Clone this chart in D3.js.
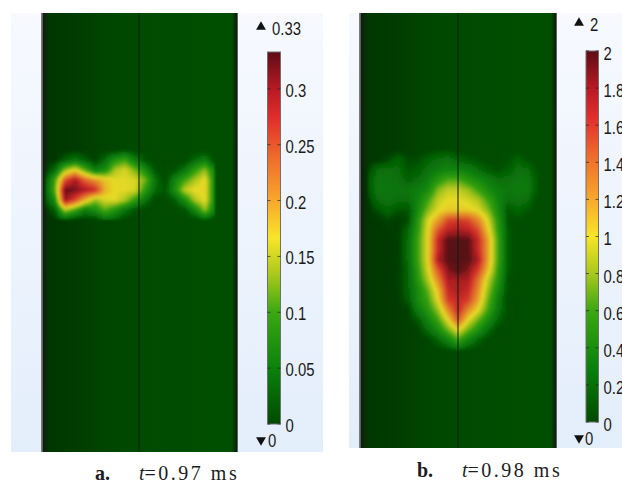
<!DOCTYPE html>
<html><head><meta charset="utf-8">
<script src="https://cdn.jsdelivr.net/npm/d3@7"></script>
<style>html,body{margin:0;padding:0;background:#fff}svg{display:block}</style></head>
<body><svg id="c" width="622" height="484"></svg>
<script>
// ---- data ----
const colourStops = [[0,"#004b00"],[0.15,"#0b820b"],[0.3,"#3aa812"],[0.4,"#a8c81c"],[0.5,"#f8e528"],[0.6,"#f8a82c"],[0.72,"#ee6a2c"],[0.82,"#e22e2c"],[0.9,"#b81a24"],[1,"#5e0c16"]];
const ticksA = [0,0.05,0.1,0.15,0.2,0.25,0.3];
const ticksB = [0,0.2,0.4,0.6,0.8,1,1.2,1.4,1.6,1.8,2];
const maxA = "0.33", minA = "0", maxB = "2", minB = "0";
const captionA = ["a.", "t", "=0.97 ms"];
const captionB = ["b.", "t", "=0.98 ms"];
// panel a: field in units of 0.01, 18 columns, 8 rows
const fieldA = [
 [0,0,0,0,0,0,0,0,1,0,0,0,0,0,0,0,0,0],
 [0,0,2,4,2,0,3,8,10,5,1,0,0,0,0,3,5,0],
 [0,3,13,17,11,5,7,14,16,12,7,1,0,1,4,9,13,5],
 [1,10,25,30,24,21,18,16.5,16.5,16,12,4,0,6,10,14,17,6],
 [2,11,33,32,30,28,19,16.5,16.5,16,9,3,1,7,15,17,17,6],
 [1,7,31,26,19,13,16,16.5,14,9,4,0,0,2,7,14,17,6],
 [0,2,14,10,5,7,11,8,4,1,0,0,0,0,1,6,13,5],
 [0,0,2,0,0,0,3,2,0,0,0,0,0,0,0,0,2,0]
];
// panel b: field in units of 0.1, 18 columns, 21 rows
const fieldB = [
 [0,0,0,0,0,0,0,0.5,0.5,0,0,0,0,0,0,0,0,0],
 [0,0,0.5,1.5,0.5,0.5,1.5,2,2.5,1.5,1,0.5,0,0,0.5,1.5,0.5,0],
 [0.3,2,2.2,2,0.8,1.2,2.2,3,3.5,3.5,3,2,1,0.5,1.2,2.2,2,0.3],
 [1,2.5,2.5,2.2,1.5,2,3,5,6.5,6.5,5,4,3,2,2.2,2.6,2.5,0.8],
 [0.8,2.6,2.6,2.5,2.5,3,4,7.5,9,9,8,6,4,3,2.5,2.8,2.6,0.8],
 [0.2,2,2.4,2,2,3.5,6,9,10,10,9.5,8.5,6,3.5,2,2.4,2,0.2],
 [0,0.8,1.6,0.8,0.8,4,7.5,9.8,10.5,10.5,10.5,9.8,7.5,4,0.8,1.6,0.8,0],
 [0,0,0.4,0,0.5,5,9.5,12,15.5,16,15.5,13,9.5,5,0.5,0.4,0,0],
 [0,0,0,0,1.5,5.5,10,15,17.5,18,17.5,15.5,10.5,5.5,1,0,0,0],
 [0,0,0,0,2,6,10,17,20,20,20,17,12,6,1,0,0,0],
 [0,0,0,0,2,6,10,17,20,20,20,17,12,6,1,0,0,0],
 [0,0,0,0,2,6,10,18,20,20,20,18,12,6,1,0,0,0],
 [0,0,0,0,1.5,5.5,9.5,15,19,20,19,16,11,5.5,1,0,0,0],
 [0,0,0,0,1.5,5,8.5,13,18,18,18,14,9,5,0.5,0,0,0],
 [0,0,0,0,1.5,4,7,11,17,18,17,13,8,4,0.5,0,0,0],
 [0,0,0,0,1,4,6,10,16,17,16,12,7,3,0,0,0,0],
 [0,0,0,0,0,3,5,8,13,17,13,10,6,2.5,0.3,0,0,0],
 [0,0,0,0,0,1,3.5,6,10,15,10,7,4,1.5,0,0,0,0],
 [0,0,0,0,0,0,2,4,7,10,7,4.5,2,0,0,0,0,0],
 [0,0,0,0,0,0,0,1.5,3.5,6,3.5,1.5,0,0,0,0,0,0],
 [0,0,0,0,0,0,0,0,0.5,1.5,0.5,0,0,0,0,0,0,0]
];

// ---- drawing ----
const svg = d3.select("#c");
const defs = svg.append("defs");
const font = "'Liberation Sans',Arial,sans-serif", serif = "'Liberation Serif','Times New Roman',serif";

function vGrad(id, stops){
  const g = defs.append("linearGradient").attr("id",id).attr("x1",0).attr("x2",0).attr("y1",0).attr("y2",1);
  stops.forEach(s=>g.append("stop").attr("offset",s[0]).attr("stop-color",s[1]));
}
vGrad("bg",[[0,"#f7f9ff"],[1,"#e3eefb"]]);
const cb = defs.append("linearGradient").attr("id","cbar").attr("x1",0).attr("x2",0).attr("y1",1).attr("y2",0);
colourStops.forEach(s=>cb.append("stop").attr("offset",s[0]).attr("stop-color",s[1]));
const pg = defs.append("linearGradient").attr("id","plot").attr("x1",0).attr("x2",1).attr("y1",0).attr("y2",0);
[[0,"#7a7a7a"],[0.006,"#7a7a7a"],[0.012,"#0c1f0c"],[0.03,"#0a2c0a"],[0.04,"#003600"],[0.14,"#003a00"],[0.3,"#004300"],[0.5,"#004b00"],[0.97,"#004f00"],[0.985,"#0a2c0a"],[0.993,"#0c1f0c"],[1,"#8a8a8a"]]
 .forEach(s=>pg.append("stop").attr("offset",s[0]).attr("stop-color",s[1]));
defs.append("filter").attr("id","soft").attr("filterUnits","userSpaceOnUse").attr("x",0).attr("y",0).attr("width",622).attr("height",484)
  .append("feGaussianBlur").attr("stdDeviation",1);

function bilinear(f, c, r){
  const c0=Math.floor(c), r0=Math.floor(r), c1=Math.min(c0+1,f[0].length-1), r1=Math.min(r0+1,f.length-1);
  const u=c-c0, v=r-r0;
  return (f[r0][c0]*(1-u)+f[r0][c1]*u)*(1-v)+(f[r1][c0]*(1-u)+f[r1][c1]*u)*v;
}

function panel(o){
  const g = svg.append("g");
  g.append("rect").attr("x",o.bg[0]).attr("y",o.bg[1]).attr("width",o.bg[2]-o.bg[0]).attr("height",o.bg[3]-o.bg[1]).attr("fill","url(#bg)");
  g.append("rect").attr("x",o.plot[0]).attr("y",o.bg[1]).attr("width",o.plot[1]-o.plot[0]).attr("height",o.bg[3]-o.bg[1]).attr("fill","url(#plot)");

  const vmax = o.vmax;
  const colour = d3.scaleLinear().domain(colourStops.map(s=>s[0]*vmax)).range(colourStops.map(s=>s[1])).clamp(true);
  const nc=o.field[0].length, nr=o.field.length;
  const xs=d3.scaleLinear().domain([0,nc-1]).range(o.fx), ys=d3.scaleLinear().domain([0,nr-1]).range(o.fy);
  const step=2, cells=[];
  for(let py=o.fy[0];py<o.fy[1];py+=step) for(let px=o.fx[0];px<o.fx[1];px+=step){
    const v=bilinear(o.field,xs.invert(px+step/2),ys.invert(py+step/2))*o.unit;
    if(v>0) cells.push({px,py,v});
  }
  g.append("g").attr("filter","url(#soft)").selectAll("rect").data(cells).join("rect")
    .attr("x",d=>d.px).attr("y",d=>d.py).attr("width",step).attr("height",step)
    .attr("fill",d=>colour(d.v)).attr("opacity",d=>Math.min(0.93,d.v/(0.05*vmax)));
  g.append("line").attr("x1",o.cx).attr("x2",o.cx).attr("y1",o.bg[1]).attr("y2",o.bg[3]).attr("stroke","#102010").attr("stroke-opacity",0.85).attr("stroke-width",1.2);

  // colour bar
  const y = d3.scaleLinear().domain([0,vmax]).range(o.bar);
  g.append("rect").attr("x",o.bx[0]).attr("y",o.bar[1]).attr("width",o.bx[1]-o.bx[0]).attr("height",o.bar[0]-o.bar[1])
    .attr("fill","url(#cbar)").attr("stroke","#6f6f6f").attr("stroke-width",1);
  const ticks = o.ticks;
  g.append("g").selectAll("path").data(ticks).join("path")
    .attr("d",d=>`M${o.bx[0]},${y(d)}h3M${o.bx[1]},${y(d)}h-3`).attr("stroke","#222").attr("stroke-opacity",0.7).attr("stroke-width",1);
  const ax = g.append("g").attr("transform",`translate(${o.bx[1]},0)`).call(d3.axisRight(y).tickValues(ticks).tickSize(0).tickFormat(d3.format("~g")));
  ax.select(".domain").remove();
  ax.selectAll("text").attr("x",null).attr("dy",null).attr("dominant-baseline","central")
    .attr("transform",`translate(${o.lx},${o.ly}) scale(0.85,1)`)
    .attr("font-family",font).attr("font-size",17.5).attr("fill","#1a1a1a").attr("text-anchor","start");

  // limits
  const tri=d3.symbol().type(d3.symbolTriangle).size(42);
  g.append("path").attr("d",tri()).attr("transform",`translate(${o.tx},${o.topY})`).attr("fill","#111");
  g.append("path").attr("d",tri()).attr("transform",`translate(${o.tx},${o.botY}) rotate(180)`).attr("fill","#111");
  const lab=(s,x,yy)=>g.append("text").text(s).attr("dominant-baseline","central").attr("transform",`translate(${x},${yy}) scale(0.85,1)`)
     .attr("font-family",font).attr("font-size",17.5).attr("fill","#1a1a1a");
  lab(o.maxL,o.maxX,o.topY+2); lab(o.minL,o.minX,o.botY+1);

  // caption
  const t=g.append("text").attr("y",o.capY).attr("font-family",serif).attr("font-size",20).attr("fill","#1c1c24");
  t.append("tspan").attr("x",o.capX[0]).attr("font-weight","bold").text(o.cap[0]);
  t.append("tspan").attr("x",o.capX[1]).attr("font-style","italic").text(o.cap[1]);
  t.append("tspan").attr("letter-spacing",2.5).text(o.cap[2]);
}

panel({bg:[11,13,323,452],plot:[41,238],cx:139,field:fieldA,unit:0.01,vmax:0.333,
  fx:[45,215],fy:[150,220],ticks:ticksA,bar:[424,52],bx:[267.5,280.5],lx:5,ly:1,
  tx:261,topY:27,botY:440,maxL:maxA,minL:minA,maxX:272,minX:268,cap:captionA,capX:[95,139],capY:480});
panel({bg:[349,13,622,448],plot:[359,557],cx:458,field:fieldB,unit:0.1,vmax:2,
  fx:[368,538],fy:[150,350],ticks:ticksB,bar:[422,51],bx:[586,598.5],lx:5,ly:2,
  tx:579,topY:23,botY:438,maxL:maxB,minL:minB,maxX:590,minX:585,cap:captionB,capX:[417,462],capY:477});
</script></body></html>
